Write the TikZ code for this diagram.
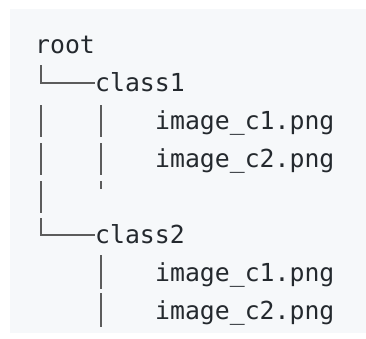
\documentclass[tikz,border=0pt]{standalone}
\usepackage{fontspec}
\setmonofont{DejaVu Sans Mono}
\definecolor{codebg}{HTML}{F6F8FA}
\definecolor{codefg}{HTML}{24292E}
\definecolor{treeline}{HTML}{5C5C5C}
\tikzset{
  txt/.style={anchor=base west, inner sep=0pt, text=codefg,
    font=\ttfamily\fontsize{24.8}{30}\selectfont},
  tree/.style={draw=treeline, line width=1.1pt}
}
\begin{document}
\begin{tikzpicture}[x=1pt,y=-1pt]
  \useasboundingbox (0,0) rectangle (366,338);
  \fill[codebg] (10,9) rectangle (366,333);

  \node[name=root, txt] at (35,53) {root};
  \node[name=c1, txt] at (95,91) {class1};
  \node[name=f11, txt] at (155,129) {image\_c1.png};
  \node[name=f12, txt] at (155,167) {image\_c2.png};
  \node[name=c2, txt] at (95,243) {class2};
  \node[name=f21, txt] at (155,281) {image\_c1.png};
  \node[name=f22, txt] at (155,319) {image\_c2.png};

  % branch to class1
  \draw[tree] (41,65) |- ([yshift=8pt]c1.base west);
  \foreach \y in {129,167,205}
    \draw[tree] (41,{\y-24}) -- (41,{\y+8});
  \foreach \y in {129,167}
    \draw[tree] (101,{\y-24}) -- (101,{\y+8});
  \draw[tree] (101,181) -- (101,189);

  % branch to class2
  \draw[tree] (41,218) |- ([yshift=8pt]c2.base west);
  \foreach \y in {281,319}
    \draw[tree] (101,{\y-26}) -- (101,{\y+8});
\end{tikzpicture}
\end{document}
